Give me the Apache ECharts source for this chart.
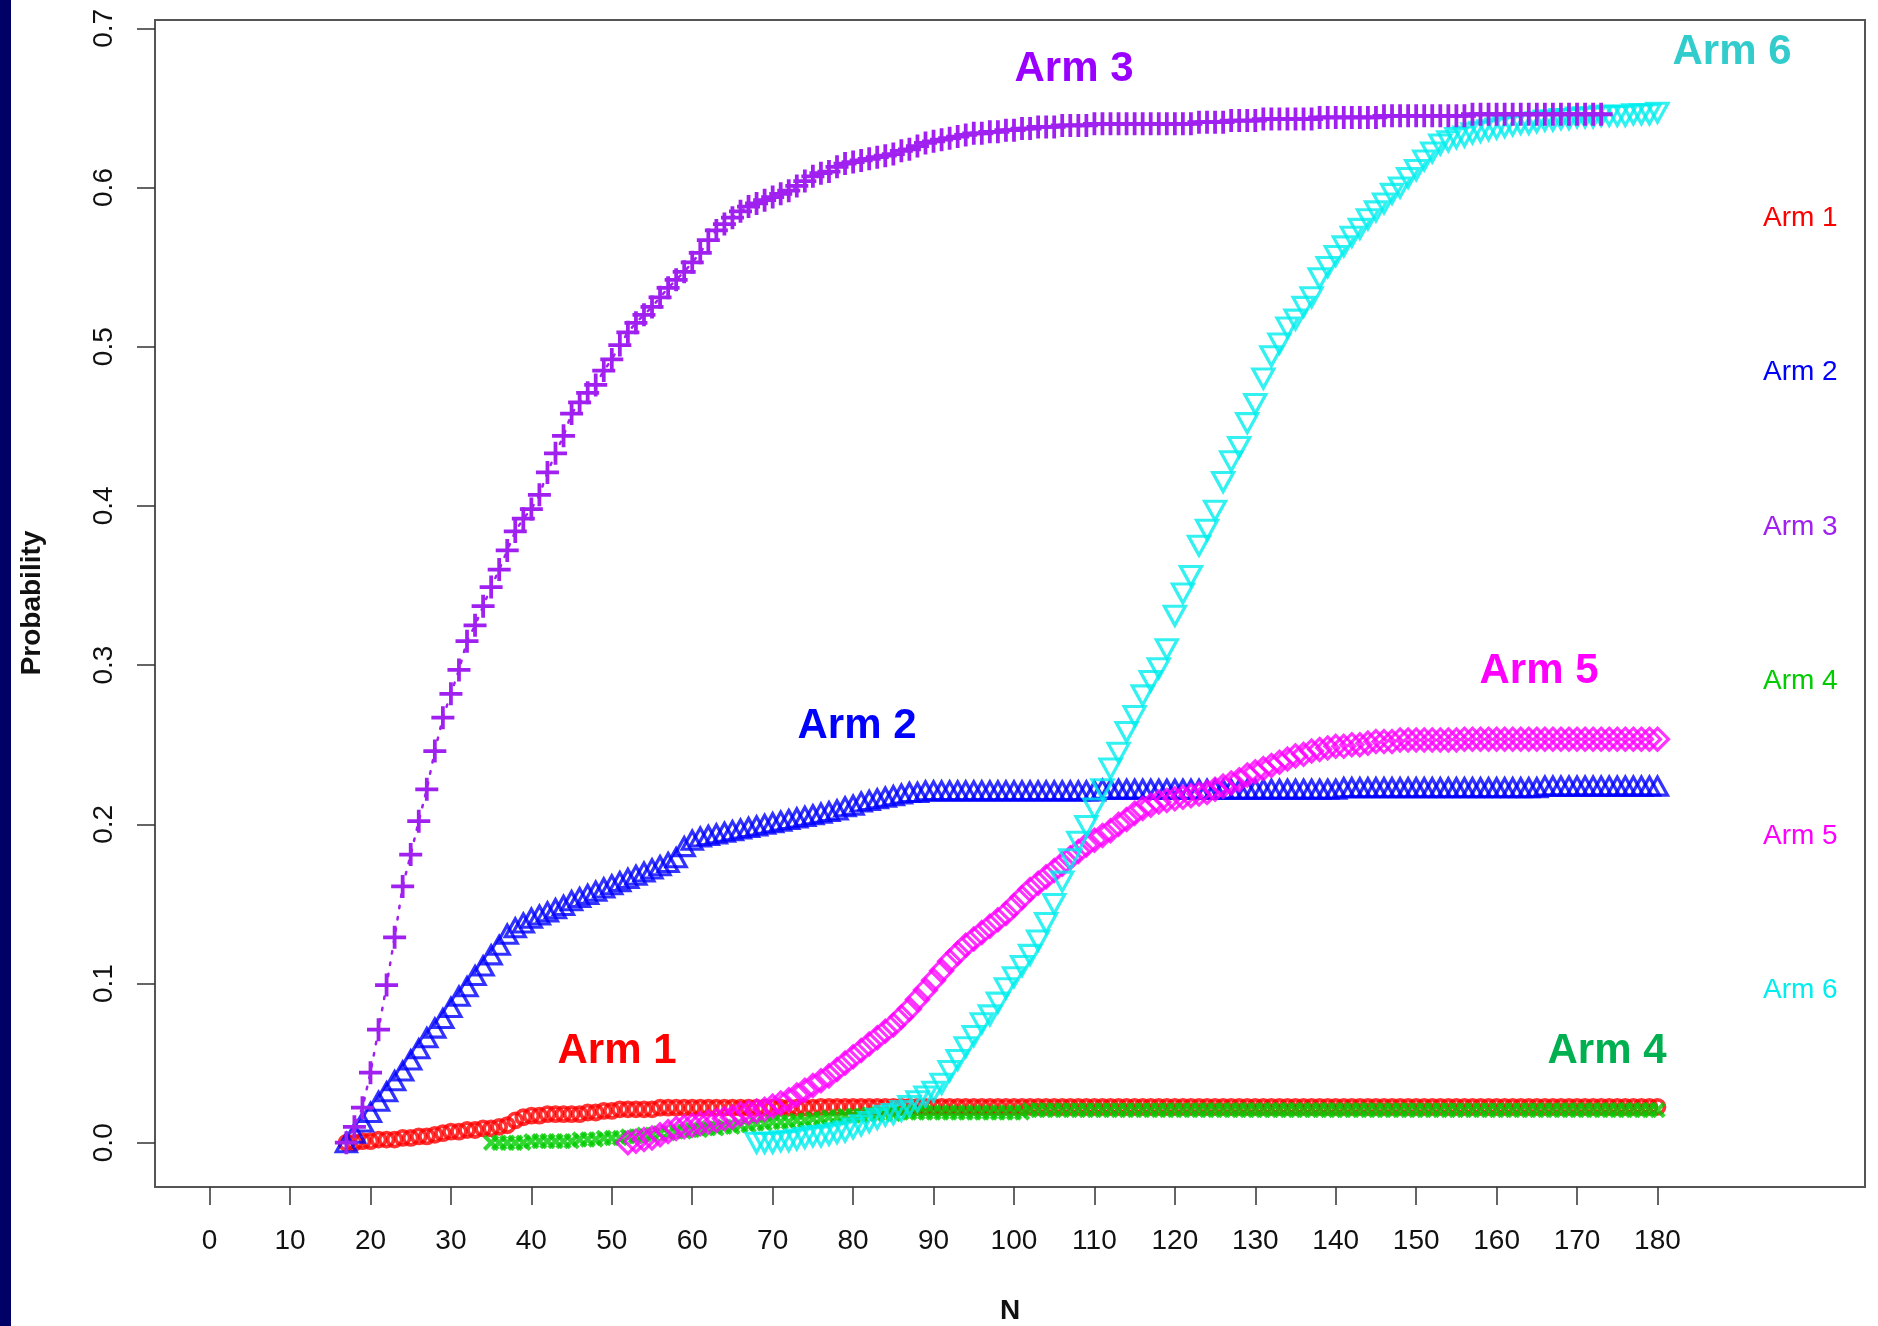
<!DOCTYPE html>
<html><head><meta charset="utf-8">
<script src="https://cdn.jsdelivr.net/npm/echarts@6/dist/echarts.min.js"></script>
<style>html,body{margin:0;padding:0;background:#fff}#c{width:1878px;height:1326px}</style>
</head><body><div id="c"></div>
<script>
// ---------- tick labels ----------
const xTicks = [0,10,20,30,40,50,60,70,80,90,100,110,120,130,140,150,160,170,180];
const yTicks = [0,0.1,0.2,0.3,0.4,0.5,0.6,0.7];
const armNames = ['Arm 1','Arm 2','Arm 3','Arm 4','Arm 5','Arm 6'];

// ---------- series values (one value per N, starting at the given N) ----------
const arm1Start = 17;
const arm1 = [
0.000,0.000,0.001,0.001,0.002,0.002,0.002,0.003,0.003,0.004,
0.004,0.005,0.006,0.007,0.007,0.008,0.008,0.009,0.009,0.010,
0.011,0.014,0.016,0.017,0.017,0.018,0.018,0.018,0.018,0.018,
0.019,0.019,0.020,0.020,0.021,0.021,0.021,0.021,0.021,0.022,
0.022,0.022,0.022,0.022,0.022,0.022,0.022,0.022,0.022,0.022,
0.022,0.022,0.022,0.022,0.022,0.022,0.022,0.022,0.022,0.0225,
0.0225,0.0225,0.0225,0.0225,0.0225,0.0225,0.0225,0.0225,0.0225,0.0225,
0.0225,0.0225,0.0225,0.0225,0.0225,0.0225,0.0225,0.0225,0.0225,0.0225,
0.0225,0.0225,0.0225,0.0225,0.0225,0.0225,0.0225,0.0225,0.0225,0.0225,
0.0225,0.0225,0.0225,0.0225,0.0225,0.0225,0.0225,0.0225,0.0225,0.0225,
0.0225,0.0225,0.0225,0.0225,0.0225,0.0225,0.0225,0.0225,0.0225,0.0225,
0.0225,0.0225,0.0225,0.0225,0.0225,0.0225,0.0225,0.0225,0.0225,0.0225,
0.0225,0.0225,0.0225,0.0225,0.0225,0.0225,0.0225,0.0225,0.0225,0.0225,
0.0225,0.0225,0.0225,0.0225,0.0225,0.0225,0.0225,0.0225,0.0225,0.0225,
0.0225,0.0225,0.0225,0.0225,0.0225,0.0225,0.0225,0.0225,0.0225,0.0225,
0.0225,0.0225,0.0225,0.0225,0.0225,0.0225,0.0225,0.0225,0.0225,0.0225,
0.0225,0.0225,0.0225,0.0225
];

const arm2Start = 17;
const arm2 = [
0.000,0.006,0.013,0.019,0.026,0.032,0.039,0.045,0.052,0.059,
0.066,0.072,0.078,0.085,0.092,0.098,0.105,0.111,0.118,0.124,
0.131,0.135,0.138,0.141,0.143,0.145,0.147,0.149,0.152,0.154,
0.156,0.158,0.160,0.162,0.164,0.166,0.168,0.170,0.172,0.174,
0.176,0.179,0.186,0.190,0.192,0.193,0.194,0.195,0.196,0.197,
0.198,0.199,0.200,0.201,0.202,0.203,0.204,0.205,0.206,0.207,
0.208,0.209,0.211,0.212,0.214,0.215,0.216,0.217,0.218,0.219,
0.220,0.220,0.221,0.221,0.221,0.221,0.221,0.221,0.221,0.221,
0.221,0.221,0.221,0.221,0.221,0.221,0.221,0.221,0.221,0.221,
0.221,0.221,0.221,0.221,0.222,0.222,0.222,0.222,0.222,0.222,
0.222,0.222,0.222,0.222,0.222,0.222,0.222,0.222,0.222,0.222,
0.222,0.222,0.222,0.222,0.222,0.222,0.222,0.222,0.222,0.222,
0.222,0.222,0.222,0.222,0.223,0.223,0.223,0.223,0.223,0.223,
0.223,0.223,0.223,0.223,0.223,0.223,0.223,0.223,0.223,0.223,
0.223,0.223,0.223,0.223,0.223,0.223,0.223,0.223,0.223,0.224,
0.224,0.224,0.224,0.224,0.224,0.224,0.224,0.224,0.224,0.224,
0.224,0.224,0.224,0.224
];

const arm3Start = 17;
const arm3 = [
0.000,0.010,0.022,0.044,0.071,0.099,0.129,0.161,0.181,0.202,
0.222,0.246,0.267,0.282,0.297,0.315,0.325,0.337,0.349,0.360,
0.372,0.384,0.392,0.398,0.407,0.421,0.433,0.444,0.458,0.465,
0.471,0.476,0.485,0.492,0.501,0.509,0.515,0.520,0.525,0.531,
0.537,0.542,0.547,0.553,0.559,0.567,0.573,0.577,0.581,0.585,
0.588,0.590,0.592,0.594,0.596,0.598,0.601,0.604,0.607,0.609,
0.610,0.613,0.615,0.616,0.617,0.618,0.619,0.620,0.621,0.623,
0.624,0.626,0.628,0.629,0.630,0.631,0.632,0.633,0.634,0.634,
0.635,0.635,0.636,0.636,0.637,0.637,0.638,0.638,0.638,0.639,
0.639,0.639,0.639,0.640,0.640,0.640,0.640,0.640,0.640,0.640,
0.640,0.640,0.640,0.640,0.640,0.640,0.641,0.641,0.641,0.641,
0.642,0.642,0.642,0.642,0.643,0.643,0.643,0.643,0.643,0.643,
0.643,0.644,0.644,0.644,0.644,0.644,0.644,0.644,0.644,0.645,
0.645,0.645,0.645,0.645,0.645,0.645,0.645,0.645,0.645,0.645,
0.646,0.646,0.646,0.646,0.646,0.646,0.646,0.646,0.646,0.646,
0.646,0.646,0.646,0.646,0.646,0.646,0.646
];

const arm4Start = 35;
const arm4 = [
0.000,0.000,0.000,0.000,0.000,0.001,0.001,0.001,0.001,0.001,
0.001,0.002,0.002,0.002,0.003,0.003,0.003,0.004,0.004,0.005,
0.005,0.006,0.006,0.007,0.007,0.008,0.008,0.009,0.009,0.010,
0.010,0.011,0.011,0.012,0.012,0.013,0.013,0.013,0.014,0.014,
0.015,0.015,0.016,0.016,0.017,0.017,0.017,0.018,0.018,0.018,
0.018,0.019,0.019,0.019,0.019,0.019,0.019,0.019,0.019,0.019,
0.019,0.019,0.019,0.019,0.019,0.019,0.019,0.0205,0.0205,0.0205,
0.0205,0.0205,0.0205,0.0205,0.0205,0.0205,0.0205,0.0205,0.0205,0.0205,
0.0205,0.0205,0.0205,0.0205,0.0205,0.0205,0.0205,0.0205,0.0205,0.0205,
0.0205,0.0205,0.0205,0.0205,0.0205,0.0205,0.0205,0.0205,0.0205,0.0205,
0.0205,0.0205,0.0205,0.0205,0.0205,0.0205,0.0205,0.0205,0.0205,0.0205,
0.0205,0.0205,0.0205,0.0205,0.0205,0.0205,0.0205,0.0205,0.0205,0.0205,
0.0205,0.0205,0.0205,0.0205,0.0205,0.0205,0.0205,0.0205,0.0205,0.0205,
0.0205,0.0205,0.0205,0.0205,0.0205,0.0205,0.0205,0.0205,0.0205,0.0205,
0.0205,0.0205,0.0205,0.0205,0.0205,0.0205
];

const arm5Start = 52;
const arm5 = [
0.000,0.001,0.002,0.003,0.005,0.007,0.009,0.010,0.011,0.012,
0.013,0.014,0.015,0.016,0.018,0.019,0.020,0.021,0.023,0.025,
0.027,0.030,0.033,0.036,0.039,0.042,0.046,0.050,0.054,0.058,
0.062,0.066,0.070,0.074,0.079,0.084,0.090,0.096,0.102,0.108,
0.114,0.119,0.124,0.128,0.132,0.136,0.140,0.144,0.149,0.154,
0.159,0.163,0.167,0.171,0.175,0.179,0.183,0.187,0.190,0.193,
0.196,0.200,0.203,0.207,0.210,0.212,0.214,0.215,0.216,0.217,
0.218,0.219,0.220,0.222,0.224,0.226,0.228,0.231,0.233,0.235,
0.237,0.239,0.241,0.243,0.244,0.246,0.247,0.248,0.249,0.249,
0.250,0.250,0.251,0.252,0.252,0.252,0.253,0.253,0.253,0.253,
0.253,0.253,0.253,0.253,0.2535,0.2535,0.2535,0.2535,0.2535,0.2535,
0.2535,0.2535,0.2535,0.2535,0.2535,0.2535,0.2535,0.2535,0.2535,0.2535,
0.2535,0.2535,0.2535,0.2535,0.2535,0.2535,0.2535,0.2535,0.2535
];

const arm6Start = 68;
const arm6 = [
0.000,0.000,0.000,0.001,0.001,0.002,0.003,0.004,0.004,0.005,
0.006,0.007,0.009,0.011,0.013,0.015,0.017,0.018,0.020,0.023,
0.026,0.029,0.032,0.037,0.045,0.052,0.060,0.067,0.075,0.080,
0.088,0.097,0.104,0.111,0.118,0.127,0.138,0.150,0.164,0.178,
0.189,0.199,0.210,0.222,0.235,0.245,0.258,0.268,0.281,0.290,
0.298,0.310,0.331,0.345,0.356,0.375,0.385,0.397,0.415,0.428,
0.437,0.452,0.464,0.480,0.494,0.502,0.512,0.517,0.525,0.531,
0.543,0.550,0.557,0.563,0.569,0.574,0.580,0.585,0.590,0.596,
0.600,0.606,0.611,0.617,0.622,0.627,0.629,0.631,0.632,0.634,
0.635,0.636,0.637,0.638,0.639,0.640,0.640,0.641,0.642,0.642,
0.643,0.643,0.644,0.644,0.644,0.645,0.645,0.645,0.645,0.646,
0.646,0.646,0.647
];

// ---------- styling ----------
const FONT = 'Liberation Sans, Arial, Helvetica, sans-serif';
const C = {
  a1: '#FF0000', a2: '#0000FF', a3: '#A020F0', a4: '#00CC00', a5: '#FF00FF', a6: '#00EEEE'
};
const PLUS = 'path://M0,9.2H22V12.8H0Z M9.2,0H12.8V22H9.2Z';
const CROSS = 'path://M0,7.8H20V12.2H0Z M7.8,0H12.2V20H7.8Z';

function pairs(start, vals) { return vals.map((v, i) => [start + i, v]); }

function hollow(name, color, start, vals, symbol, size, rot, bw) {
  return {
    name, type: 'scatter', data: pairs(start, vals),
    symbol, symbolSize: size, symbolRotate: rot || 0,
    itemStyle: { color: 'rgba(0,0,0,0)', borderColor: color, borderWidth: bw || 3.2 },
    emphasis: { disabled: true }, silent: true
  };
}

const chart = echarts.init(document.getElementById('c'), null, { renderer: 'canvas' });

const bigLabel = (t, x, y, c) => ({
  type: 'text', x, y, z: 100,
  style: { text: t, fill: c, fontSize: 42, fontWeight: 'bold', fontFamily: FONT, align: 'center', verticalAlign: 'middle' }
});
const sideLabel = (t, y, c) => ({
  type: 'text', x: 1763, y, z: 100,
  style: { text: t, fill: c, fontSize: 28, fontFamily: FONT, align: 'left', verticalAlign: 'middle' }
});

chart.setOption({
  animation: false,
  backgroundColor: '#ffffff',
  grid: { left: 155, top: 20, width: 1710, height: 1167, show: true, borderColor: '#555', borderWidth: 2, backgroundColor: 'rgba(0,0,0,0)', containLabel: false },
  xAxis: {
    type: 'value', min: -6.79, max: 205.8, position: 'bottom',
    splitLine: { show: false },
    axisLine: { show: false, onZero: false },
    axisTick: { show: true, length: 18, customValues: xTicks, lineStyle: { color: '#333', width: 1.5 } },
    axisLabel: { customValues: xTicks, margin: 40, fontSize: 28, color: '#111', fontFamily: FONT }
  },
  yAxis: {
    type: 'value', min: -0.0278, max: 0.7052, position: 'left',
    splitLine: { show: false },
    axisLine: { show: false, onZero: false },
    axisTick: { show: true, length: 18, customValues: yTicks, lineStyle: { color: '#333', width: 1.5 } },
    axisLabel: { customValues: yTicks, rotate: 90, margin: 37, fontSize: 28, color: '#111', fontFamily: FONT,
      formatter: v => Number(v).toFixed(1) }
  },
  series: [
    hollow(armNames[0], C.a1, arm1Start, arm1, 'circle', 14, 0, 3.8),
    hollow(armNames[1], C.a2, arm2Start, arm2, 'triangle', [20, 18]),
    {
      name: armNames[2], type: 'line', data: pairs(arm3Start, arm3),
      symbol: PLUS, symbolSize: 23, showSymbol: true, showAllSymbol: true,
      lineStyle: { color: C.a3, width: 2.5, type: [2.5, 9], cap: 'round' },
      itemStyle: { color: C.a3, borderWidth: 0 },
      emphasis: { disabled: true }, silent: true
    },
    {
      name: armNames[3], type: 'scatter', data: pairs(arm4Start, arm4),
      symbol: CROSS, symbolSize: 19, symbolRotate: 45,
      itemStyle: { color: C.a4, borderWidth: 0 },
      emphasis: { disabled: true }, silent: true
    },
    hollow(armNames[4], C.a5, arm5Start, arm5, 'diamond', [22, 22]),
    hollow(armNames[5], C.a6, arm6Start, arm6, 'triangle', [21, 19], 180)
  ],
  graphic: [
    { type: 'rect', left: 0, top: 0, z: 100, shape: { width: 11, height: 1326 }, style: { fill: '#000066' } },
    { type: 'text', x: 1010, y: 1311, z: 100,
      style: { text: 'N', fill: '#111', fontSize: 28, fontWeight: 'bold', fontFamily: FONT, align: 'center', verticalAlign: 'middle' } },
    { type: 'text', x: 32, y: 603, rotation: Math.PI / 2, z: 100,
      style: { text: 'Probability', fill: '#111', fontSize: 28, fontWeight: 'bold', fontFamily: FONT, align: 'center', verticalAlign: 'middle' } },
    bigLabel('Arm 3', 1074, 69, '#9900FF'),
    bigLabel('Arm 6', 1732, 52, '#33CCCC'),
    bigLabel('Arm 2', 857, 726, '#0000FF'),
    bigLabel('Arm 5', 1539, 671, '#FF00FF'),
    bigLabel('Arm 1', 617, 1051, '#FF0000'),
    bigLabel('Arm 4', 1607, 1051, '#00B050'),
    sideLabel(armNames[0], 218, C.a1),
    sideLabel(armNames[1], 372, C.a2),
    sideLabel(armNames[2], 527, C.a3),
    sideLabel(armNames[3], 681, C.a4),
    sideLabel(armNames[4], 836, C.a5),
    sideLabel(armNames[5], 990, C.a6)
  ]
});
</script>
</body></html>
